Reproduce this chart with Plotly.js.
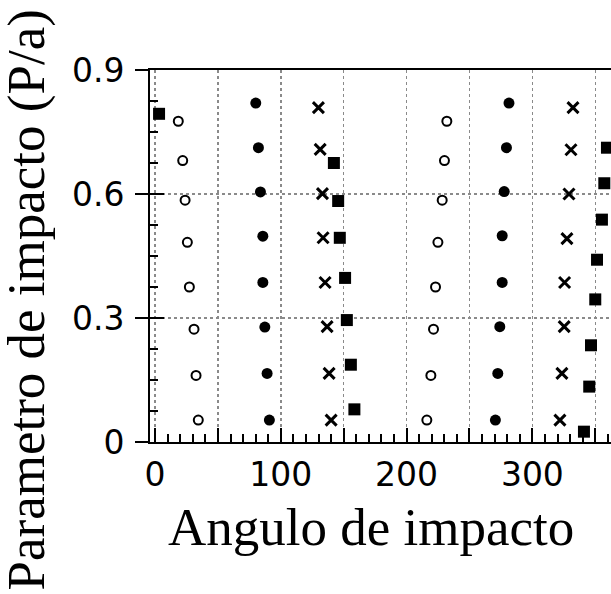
<!DOCTYPE html>
<html>
<head>
<meta charset="utf-8">
<script src="https://cdn.plot.ly/plotly-3.0.1.min.js"></script>
<style>
  html, body { margin: 0; padding: 0; background: #fff; overflow: hidden; }
  #chart { width: 700px; height: 594px; }
</style>
</head>
<body>
<div id="chart"></div>
<script>
// Impact angle (degrees) vs impact parameter (P/a) for four trajectory families
const openX   = [18.5, 22.0, 23.9, 25.7, 27.3, 31.0, 32.6, 34.4,
                 232.0, 230.1, 228.3, 224.9, 223.0, 221.4, 219.3, 216.1];
const openY   = [0.776, 0.681, 0.585, 0.483, 0.375, 0.273, 0.161, 0.053,
                 0.776, 0.681, 0.585, 0.483, 0.375, 0.273, 0.161, 0.053];

const filledX = [80.1, 82.2, 83.8, 85.7, 85.7, 87.3, 89.1, 90.9,
                 281.4, 279.4, 277.6, 276.0, 276.0, 274.1, 272.5, 270.6];
const filledY = [0.820, 0.712, 0.605, 0.498, 0.386, 0.278, 0.166, 0.053,
                 0.820, 0.712, 0.606, 0.499, 0.386, 0.279, 0.166, 0.053];

const crossX  = [129.9, 131.3, 133.1, 133.6, 135.2, 136.8, 138.4, 140.0,
                 332.3, 330.7, 329.1, 327.5, 325.6, 325.3, 323.5, 321.9];
const crossY  = [0.809, 0.708, 0.601, 0.494, 0.386, 0.279, 0.166, 0.053,
                 0.809, 0.707, 0.600, 0.492, 0.386, 0.279, 0.166, 0.053];

const squareX = [3.2, 142.2, 145.6, 146.9, 151.1, 152.5, 155.7, 158.5,
                 359.3, 357.2, 355.3, 351.4, 350.0, 346.6, 345.2, 341.0];
const squareY = [0.794, 0.675, 0.583, 0.494, 0.397, 0.295, 0.187, 0.079,
                 0.712, 0.626, 0.538, 0.441, 0.345, 0.234, 0.134, 0.025];

const xTickVals = [0, 50, 100, 150, 200, 250, 300, 350];
const xTickText = ['0', '', '100', '', '200', '', '300', ''];
const yTickVals = [0, 0.3, 0.6, 0.9];
const yTickText = ['0', '0.3', '0.6', '0.9'];

const xTitle = 'Angulo de impacto';
const yTitle = 'Parametro de impacto (P/a)';

const xRange = [-4, 380];
const yRange = [0, 0.9];

const tickFont  = { family: 'DejaVu Sans, sans-serif', size: 33, color: '#000' };
const titleFont = { family: 'Liberation Serif, Times New Roman, serif', size: 53, color: '#000' };

const traces = [
  { x: openX, y: openY, type: 'scatter', mode: 'markers',
    marker: { symbol: 'circle-open', size: 9, color: '#000', line: { width: 2, color: '#000' } } },
  { x: filledX, y: filledY, type: 'scatter', mode: 'markers',
    marker: { symbol: 'circle', size: 11, color: '#000' } },
  { x: crossX, y: crossY, type: 'scatter', mode: 'markers',
    marker: { symbol: 'x-thin', size: 11, color: '#000', line: { width: 3, color: '#000' } } },
  { x: squareX, y: squareY, type: 'scatter', mode: 'markers', yaxis: 'y2',
    marker: { symbol: 'square', size: 12, color: '#000' } }
];

const layout = {
  width: 700, height: 594,
  margin: { l: 150, r: 67, t: 70, b: 152, pad: 0 },
  paper_bgcolor: '#fff', plot_bgcolor: '#fff',
  showlegend: false,
  xaxis: {
    range: xRange, autorange: false, zeroline: false,
    tickmode: 'array', tickvals: xTickVals, ticktext: xTickText,
    ticks: 'inside', ticklen: 14, tickwidth: 2, tickcolor: '#000',
    minor: { dtick: 10, ticks: 'inside', ticklen: 8, tickwidth: 2, tickcolor: '#000', showgrid: false },
    showgrid: true, gridcolor: '#8a8a8a', gridwidth: 1.5, griddash: 'dot',
    showline: true, linecolor: '#000', linewidth: 2, mirror: true,
    tickfont: tickFont, ticklabelstandoff: 2
  },
  yaxis: {
    range: yRange, autorange: false, zeroline: false,
    tickmode: 'array', tickvals: yTickVals, ticktext: yTickText,
    ticks: 'outside', ticklen: 13, tickwidth: 2, tickcolor: '#000',
    showgrid: true, gridcolor: '#8a8a8a', gridwidth: 1.5, griddash: 'dot',
    showline: true, linecolor: '#000', linewidth: 2, mirror: true,
    tickfont: tickFont, ticklabelstandoff: 4
  },
  // companion axis: inner half of the major ticks plus the minor ticks
  yaxis2: {
    overlaying: 'y', side: 'left', anchor: 'x',
    range: yRange, autorange: false, zeroline: false,
    tickmode: 'array', tickvals: yTickVals, showticklabels: false,
    ticks: 'inside', ticklen: 14, tickwidth: 2, tickcolor: '#000',
    minor: { dtick: 0.075, tick0: 0, ticks: 'inside', ticklen: 8, tickwidth: 2, tickcolor: '#000', showgrid: false },
    showgrid: false, showline: false
  },
  // axis titles, placed in paper coordinates
  annotations: [
    { text: xTitle, font: titleFont, showarrow: false,
      xref: 'paper', yref: 'paper', x: 0.4576, y: -0.228,
      xanchor: 'center', yanchor: 'middle' },
    { text: yTitle, font: titleFont, showarrow: false, textangle: -90,
      xref: 'paper', yref: 'paper', x: -0.2547, y: 0.383,
      xanchor: 'center', yanchor: 'middle' }
  ]
};

Plotly.newPlot('chart', traces, layout, { staticPlot: true, displayModeBar: false });
</script>
</body>
</html>
